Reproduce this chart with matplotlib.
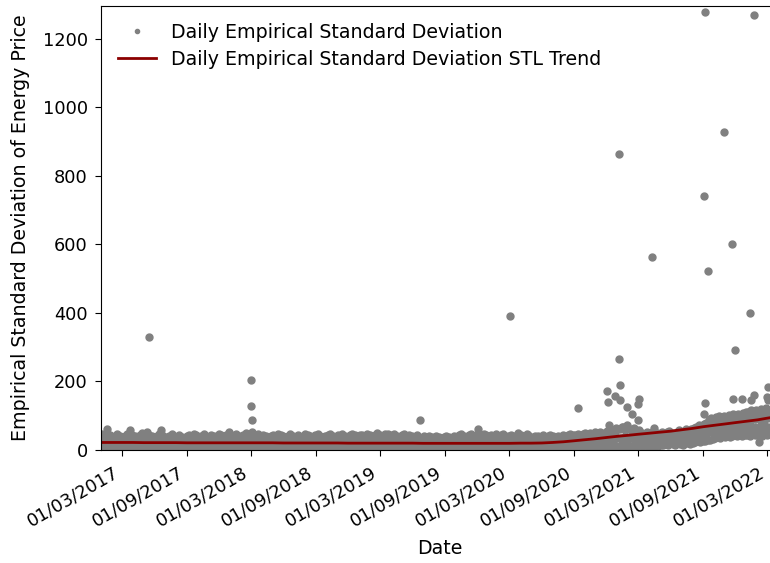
import matplotlib
matplotlib.use("Agg")
import matplotlib.pyplot as plt
import matplotlib.dates as mdates
import pandas as pd
import numpy as np

# ---- weekly band values (start 2017-01-02, one value per week) ----
low_2017 = [10, 8, 12, 6, 14, 9, 11, 7, 13, 10, 5, 12, 9, 14, 8, 11, 6, 13, 10, 7, 12, 9, 14, 8, 11, 6,
            10, 13, 7, 12, 9, 5, 11, 14, 8, 10, 12, 6, 9, 13, 11, 7, 10, 14, 8, 12, 9, 6, 11, 13, 10, 8]
low_2018 = [9, 12, 7, 11, 14, 8, 10, 6, 13, 11, 9, 12, 7, 10, 14, 8, 11, 13, 6, 9, 12, 10, 8, 14, 11, 7,
            12, 9, 13, 10, 6, 11, 8, 14, 12, 9, 10, 7, 13, 11, 8, 12, 10, 6, 14, 9, 11, 13, 8, 10, 12, 7, 9]
low_2019 = [11, 8, 13, 10, 7, 12, 9, 14, 10, 6, 11, 13, 8, 12, 9, 10, 14, 7, 11, 9, 12, 8, 13, 10, 6, 11,
            9, 12, 14, 8, 10, 13, 7, 11, 9, 12, 10, 8, 14, 11, 6, 9, 12, 10, 13, 8, 11, 7, 12, 10, 9, 13]
low_2020 = [10, 12, 8, 11, 13, 9, 7, 12, 10, 14, 8, 11, 9, 13, 6, 10, 12, 8, 11, 14, 9, 7, 12, 10, 13, 8,
            11, 9, 12, 14, 10, 8, 13, 11, 9, 12, 14, 10, 11, 13, 9, 12, 14, 10, 8, 13, 11, 9, 12, 10, 14, 11]
low_2021 = [10, 14, 12, 9, 15, 11, 13, 10, 14, 12, 15, 11, 14, 10, 13, 16, 12, 14, 16, 18, 14, 19, 17, 15,
            20, 18, 16, 19, 21, 17, 20, 22, 25, 23, 27, 26, 30, 28, 33, 35, 38, 36, 40, 39, 42, 38, 41, 43,
            40, 44, 42, 45]
low_2022 = [44, 42, 46, 43, 45, 48, 42, 46, 44, 47, 45, 43, 46]

high_2017 = [46, 40, 38, 44, 37, 42, 48, 40, 36, 41, 47, 39, 44, 40, 37, 43, 49, 41, 38, 45, 40, 36, 42, 46,
             43, 38, 37, 41, 47, 40, 37, 43, 39, 36, 42, 45, 40, 47, 43, 38, 41, 46, 40, 37, 44, 41, 38, 47,
             43, 40, 45, 41]
high_2018 = [44, 40, 47, 41, 38, 43, 49, 44, 40, 37, 41, 46, 38, 43, 40, 36, 41, 44, 38, 47, 43, 40, 37, 41,
             46, 40, 38, 43, 37, 41, 47, 44, 40, 38, 43, 46, 41, 37, 40, 44, 48, 41, 38, 43, 40, 46, 41, 37,
             43, 47, 44, 40, 43]
high_2019 = [45, 41, 48, 43, 38, 44, 49, 45, 41, 47, 43, 40, 44, 48, 41, 38, 43, 47, 40, 44, 41, 37, 43, 38,
             35, 40, 37, 41, 38, 34, 40, 37, 36, 39, 42, 37, 35, 40, 39, 43, 46, 41, 38, 43, 47, 41, 44, 40,
             43, 48, 44, 41]
high_2020 = [44, 41, 47, 40, 43, 46, 39, 41, 44, 41, 39, 49, 44, 40, 37, 43, 39, 36, 41, 40, 37, 43, 39, 41,
             44, 40, 37, 41, 39, 43, 40, 44, 46, 43, 45, 48, 44, 47, 49, 46, 50, 48, 52, 49, 54, 51, 48, 56,
             52, 58, 54, 62]
high_2021 = [62, 68, 58, 72, 60, 55, 64, 52, 58, 50, 46, 54, 48, 52, 45, 50, 47, 53, 48, 52, 55, 50, 46, 53,
             58, 51, 55, 60, 56, 62, 65, 68, 72, 70, 76, 80, 88, 94, 90, 96, 98, 94, 100, 96, 102, 97, 104,
             100, 106, 102, 108, 110]
high_2022 = [112, 116, 110, 118, 114, 120, 112, 122, 115, 118, 124, 116, 120]

# weekly middle values 2017-01-04 .. 2020-07-29
mid_early = [26, 24, 28, 25, 23, 27, 29, 24, 26, 22, 28, 25, 27, 23, 26, 29, 24, 27, 25, 22,
             28, 26, 24, 27, 23, 29, 25, 26, 28, 24, 22, 27, 25, 29, 23, 26, 28, 24, 27, 25,
             23, 28, 26, 24, 29, 22, 27, 25, 26, 28, 24, 23, 27, 29, 25, 26, 22, 28, 24, 27,
             25, 29, 23, 26, 28, 24, 27, 22, 25, 28, 26, 24, 29, 23, 27, 25, 26, 28, 22, 24,
             27, 25, 28, 23, 26, 29, 24, 27, 25, 22, 28, 26, 24, 27, 23, 29, 25, 26, 28, 24,
             22, 27, 25, 29, 23, 26, 28, 24, 27, 25, 23, 28, 26, 24, 29, 22, 27, 25, 26, 28,
             24, 23, 27, 29, 25, 26, 22, 28, 24, 27, 25, 29, 23, 26, 28, 24, 27, 22, 25, 28,
             26, 24, 29, 23, 27, 25, 26, 28, 22, 24, 27, 25, 28, 23, 26, 29, 24, 27, 25, 22,
             28, 26, 24, 27, 23, 29, 25, 26, 28, 24, 22, 27, 25, 29, 23, 26, 28, 24, 27, 25,
             23, 28, 26, 24, 29, 22, 27]
# weekly mid values from 2020-08-03
mid_a = [24, 22, 25, 23, 26, 24, 27, 25, 26, 28, 25, 30, 27, 29, 32, 28, 31, 30, 33, 29, 32, 35,
         36, 34, 38, 33, 37, 35, 32, 36, 34, 30, 28, 32, 29, 31, 27, 30, 29, 32, 30, 32, 34, 31, 33,
         35, 32, 34, 36, 33, 35, 38, 36, 40, 42, 44, 46, 48, 55, 52, 58, 56, 60, 58, 62, 59, 63, 61,
         64, 60, 62, 65, 63, 66, 64, 66, 62, 68, 65, 67, 63, 69, 66, 68, 64, 67, 65]
# weekly upper-mid values from 2021-08-02
mid_b = [52, 55, 58, 60, 62, 72, 75, 70, 76, 78, 80, 76, 82, 79, 84, 80, 83, 85, 82, 88, 86,
         88, 92, 86, 94, 90, 95, 88, 96, 91, 94, 98, 90, 93]

# ---- individual days standing out of the band ----
out_dates = ["2017-01-17", "2017-03-24", "2017-05-10", "2017-05-17", "2017-06-20", "2017-12-29",
             "2018-03-01", "2018-03-02", "2018-03-03", "2018-03-04",
             "2019-03-25", "2019-06-22", "2019-12-04", "2020-03-02", "2020-04-20", "2020-09-12",
             "2020-12-01", "2020-12-06", "2020-12-07", "2020-12-25", "2020-12-29",
             "2021-01-04", "2021-01-06", "2021-01-08", "2021-01-09", "2021-01-17", "2021-01-29",
             "2021-02-10", "2021-02-28", "2021-03-01", "2021-03-04", "2021-04-09", "2021-04-13",
             "2021-09-03", "2021-09-04", "2021-09-05", "2021-09-06", "2021-09-13", "2021-10-30",
             "2021-11-22", "2021-11-24", "2021-11-29", "2021-12-18",
             "2022-01-11", "2022-01-15", "2022-01-22", "2022-01-23", "2022-02-06",
             "2022-02-28", "2022-03-02", "2022-03-04"]
out_values = [62, 58, 53, 329, 58, 53,
              205, 129, 87, 53,
              47, 87, 62, 392, 46, 122,
              173, 141, 73, 158, 63,
              865, 265, 146, 189, 68, 126,
              105, 135, 87, 150, 563, 63,
              105, 742, 1279, 138, 523, 929,
              600, 148, 293, 148,
              400, 146, 1271, 162, 22,
              156, 146, 183]

# ---- STL trend, monthly (from 2017-01) ----
trend_values = [22, 22, 22, 22, 21.5, 21.5, 21.5, 21.5, 21, 21, 21, 21,
                21, 21, 21, 21, 21, 20.5, 20.5, 20.5, 20.5, 20.5, 20.5, 20,
                20, 20, 20, 20, 20, 20, 19.5, 19.5, 19.5, 19.5, 19.5, 19.5,
                19.5, 19.5, 19.5, 20, 20, 20.5, 22, 24, 27, 30, 33, 36.5,
                40, 43, 46, 49, 52, 55, 59, 63, 68, 72, 76, 80,
                84, 88, 93, 98]

y_ticks = [0, 200, 400, 600, 800, 1000, 1200]

# ---- assemble ----
low = low_2017 + low_2018 + low_2019 + low_2020 + low_2021 + low_2022
high = high_2017 + high_2018 + high_2019 + high_2020 + high_2021 + high_2022
s_low = pd.Series(low, index=pd.date_range("2017-01-02", periods=len(low), freq="7D"))
s_high = pd.Series(high, index=pd.date_range("2017-01-05", periods=len(high), freq="7D"))
s_mide = pd.Series(mid_early, index=pd.date_range("2017-01-04", periods=len(mid_early), freq="7D"))
s_mida = pd.Series(mid_a, index=pd.date_range("2020-08-04", periods=len(mid_a), freq="7D"))
s_midb = pd.Series(mid_b, index=pd.date_range("2021-08-03", periods=len(mid_b), freq="7D"))
s_out = pd.Series(out_values, index=pd.to_datetime(out_dates))
daily = pd.concat([s_low, s_high, s_mide, s_mida, s_midb, s_out]).sort_index()
trend = pd.Series(trend_values, index=pd.date_range("2017-01-01", periods=len(trend_values), freq="MS"))

plt.rcParams["font.family"] = "DejaVu Sans"
plt.rcParams["font.size"] = 13.7
plt.rcParams["xtick.labelsize"] = 12.8
plt.rcParams["ytick.labelsize"] = 12.8
plt.rcParams["xtick.major.size"] = 4.2
plt.rcParams["ytick.major.size"] = 4.2
plt.rcParams["xtick.major.pad"] = 5.5
plt.rcParams["ytick.major.pad"] = 5.3

fig = plt.figure(figsize=(7.7, 5.63), dpi=100)
ax = fig.add_axes([101 / 770, 1 - 450 / 563, (778 - 101) / 770, (450 - 6) / 563])

ax.plot(daily.index, daily.values, "o", color="grey", markersize=5, linestyle="none",
        label="Daily Empirical Standard Deviation")
ax.plot(trend.index, trend.values, color="darkred", linewidth=2,
        label="Daily Empirical Standard Deviation STL Trend")

ax.set_xlim(pd.Timestamp("2017-01-01"), pd.Timestamp("2022-03-31"))
ax.set_ylim(0, 1296)
ax.set_yticks(y_ticks)
ax.xaxis.set_major_locator(mdates.MonthLocator(bymonth=[3, 9]))
ax.xaxis.set_major_formatter(mdates.DateFormatter("%d/%m/%Y"))
for lab in ax.get_xticklabels():
    lab.set_rotation(30)
    lab.set_ha("right")

ax.set_xlabel("Date", labelpad=6)
ax.set_ylabel("Empirical Standard Deviation of Energy Price", labelpad=9)
ax.legend(loc="upper left", frameon=False, markerscale=0.6, labelspacing=0.4)

fig.savefig("out.png", dpi=100)
